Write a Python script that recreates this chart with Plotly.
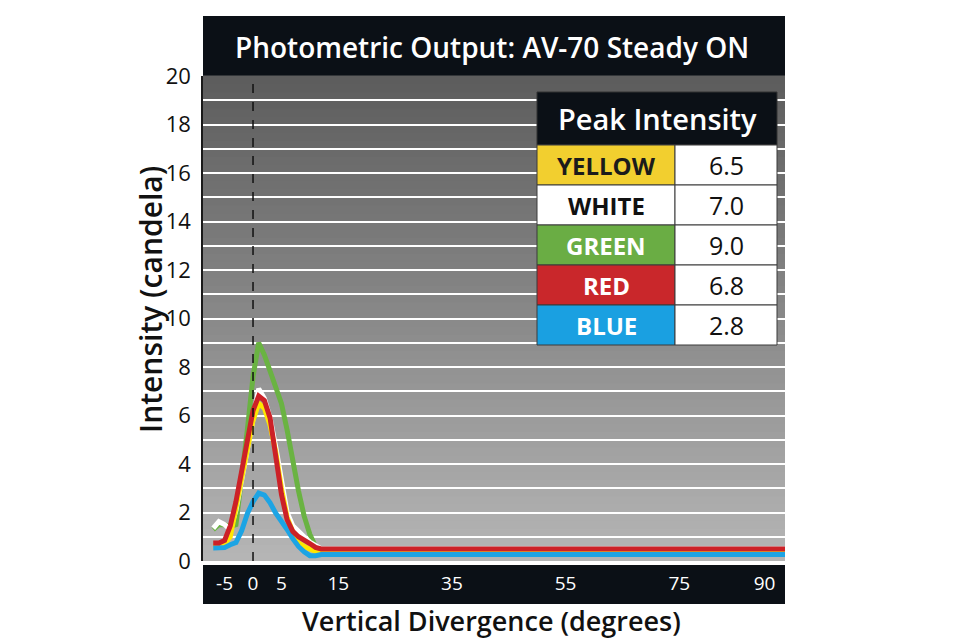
import plotly.graph_objects as go

# ---------------- data ----------------
angles = [-7, -6, -5, -4, -3, -2, -1, 0, 1, 2, 3, 4, 5, 6, 7, 8, 9, 10, 11, 12, 14, 95]

green = [1.30, 1.50, 1.50, 1.42, 1.50, 3.30, 5.40, 7.60, 9.00, 8.50, 7.80, 7.10, 6.50, 5.40,
         4.10, 2.90, 1.85, 1.10, 0.60, 0.42, 0.38, 0.38]
white = [1.35, 1.62, 1.50, 1.30, 2.10, 3.30, 4.60, 5.80, 7.10, 6.70, 5.90, 4.70, 3.20, 2.00,
         1.45, 1.20, 1.00, 0.78, 0.62, 0.50, 0.50, 0.50]
yellow = [0.62, 0.62, 0.70, 1.00, 2.20, 3.40, 4.70, 5.80, 6.50, 6.30, 5.60, 4.50, 3.00, 1.80,
          1.20, 0.75, 0.60, 0.50, 0.42, 0.30, 0.30, 0.30]
blue = [0.54, 0.54, 0.56, 0.67, 0.76, 1.25, 1.95, 2.45, 2.80, 2.72, 2.40, 1.97, 1.65, 1.30,
        0.92, 0.60, 0.38, 0.22, 0.22, 0.27, 0.27, 0.27]
red = [0.74, 0.74, 0.85, 1.45, 2.45, 3.70, 5.05, 6.20, 6.80, 6.62, 5.90, 4.40, 2.75, 1.70,
       1.22, 1.00, 0.88, 0.72, 0.56, 0.50, 0.50, 0.50]

x_ticks = [-5, 0, 5, 15, 35, 55, 75, 90]
y_ticks = list(range(0, 21, 2))

table_names = ["YELLOW", "WHITE", "GREEN", "RED", "BLUE"]
table_peaks = [6.5, 7.0, 9.0, 6.8, 2.8]

title_text = "Photometric Output: AV-70 Steady ON"
x_title = "Vertical Divergence (degrees)"
y_title = "Intensity (candela)"
table_title = "Peak Intensity"

# ---------------- styles ----------------
W, H = 960, 638
ML, MR, MT, MB = 203, 175, 76, 77
PW, PH = W - ML - MR, H - MT - MB
FONT = "Open Sans"
DARK = "#0b1016"


def px(x):
    return (x - ML) / PW


def py(y):
    return (H - MB - y) / PH


series = [
    ("GREEN", green, "#6ab342"),
    ("WHITE", white, "#ffffff"),
    ("YELLOW", yellow, "#ffe600"),
    ("BLUE", blue, "#1ca4e4"),
    ("RED", red, "#cc2127"),
]

fig = go.Figure()
for name, vals, col in series:
    fig.add_trace(go.Scatter(x=angles, y=vals, mode="lines", name=name,
                             line=dict(color=col, width=5), showlegend=False))

shapes = []
# gradient background
N = 60
top = (0x5c, 0x5c, 0x5c)
bot = (0xb6, 0xb6, 0xb6)
for i in range(N):
    t = (i + 0.5) / N
    c = tuple(int(round(bot[k] + (top[k] - bot[k]) * t)) for k in range(3))
    shapes.append(dict(type="rect", xref="paper", yref="paper", x0=0, x1=1,
                       y0=i / N, y1=(i + 1) / N + 0.002, layer="below",
                       fillcolor="rgb(%d,%d,%d)" % c, line=dict(width=0)))
# title bar
shapes.append(dict(type="rect", xref="paper", yref="paper", x0=0, x1=1,
                   y0=py(75.5), y1=py(16), fillcolor=DARK, line=dict(width=0), layer="below"))
# x-axis bar
shapes.append(dict(type="rect", xref="paper", yref="paper", x0=0, x1=1,
                   y0=py(604), y1=py(565), fillcolor=DARK, line=dict(width=0), layer="below"))
# dashed zero line
shapes.append(dict(type="line", xref="x", yref="paper", x0=0, x1=0, y0=0, y1=1,
                   line=dict(color="#111111", width=1.5, dash="dash"), layer="above"))

annotations = []
annotations.append(dict(xref="paper", yref="paper", x=px(492), y=py(47),
                        text=title_text, showarrow=False, xanchor="center", yanchor="middle",
                        font=dict(family=FONT, size=28, color="white", weight=600)))
annotations.append(dict(xref="paper", yref="paper", x=px(491), y=py(620),
                        text=x_title, showarrow=False, xanchor="center", yanchor="middle",
                        font=dict(family=FONT, size=27, color="#111111", weight=600)))
annotations.append(dict(xref="paper", yref="paper", x=px(150), y=py(300),
                        text=y_title, showarrow=False, xanchor="center", yanchor="middle",
                        textangle=-90,
                        font=dict(family=FONT, size=30, color="#111111", weight=600)))

# table
TX0, TX1, TX2 = 537, 675, 777
TY0, TYH = 92, 145
ROWH = 40
row_style = {
    "YELLOW": ("#f2cf2f", "#1b1b1b"),
    "WHITE": ("#ffffff", "#111111"),
    "GREEN": ("#6aad44", "#ffffff"),
    "RED": ("#c9272b", "#ffffff"),
    "BLUE": ("#1aa0e1", "#ffffff"),
}
shapes.append(dict(type="rect", xref="paper", yref="paper", x0=px(TX0), x1=px(TX2),
                   y0=py(TYH), y1=py(TY0), fillcolor=DARK, line=dict(color="#333333", width=1),
                   layer="above"))
annotations.append(dict(xref="paper", yref="paper", x=px((TX0 + TX2) / 2), y=py((TY0 + TYH) / 2),
                        text=table_title, showarrow=False, xanchor="center", yanchor="middle",
                        font=dict(family=FONT, size=29, color="white", weight=600)))
for i, (nm, pk) in enumerate(zip(table_names, table_peaks)):
    y0 = TYH + i * ROWH
    y1 = y0 + ROWH
    bg, fg = row_style[nm]
    shapes.append(dict(type="rect", xref="paper", yref="paper", x0=px(TX0), x1=px(TX1),
                       y0=py(y1), y1=py(y0), fillcolor=bg, line=dict(color="#3a3a3a", width=1),
                       layer="above"))
    shapes.append(dict(type="rect", xref="paper", yref="paper", x0=px(TX1), x1=px(TX2),
                       y0=py(y1), y1=py(y0), fillcolor="#ffffff", line=dict(color="#3a3a3a", width=1),
                       layer="above"))
    annotations.append(dict(xref="paper", yref="paper", x=px((TX0 + TX1) / 2), y=py((y0 + y1) / 2),
                            text=nm, showarrow=False, xanchor="center", yanchor="middle",
                            font=dict(family=FONT, size=24, color=fg, weight=700)))
    annotations.append(dict(xref="paper", yref="paper", x=px((TX1 + TX2) / 2), y=py((y0 + y1) / 2),
                            text="%.1f" % pk, showarrow=False, xanchor="center", yanchor="middle",
                            font=dict(family=FONT, size=25, color="#111111")))

fig.update_layout(
    width=W, height=H,
    margin=dict(l=ML, r=MR, t=MT, b=MB, pad=0),
    paper_bgcolor="white", plot_bgcolor="#8a8a8a",
    shapes=shapes, annotations=annotations,
    font=dict(family=FONT),
    xaxis=dict(range=[-8.8, 93.6], tickmode="array", tickvals=x_ticks,
               ticktext=[str(v) for v in x_ticks], showgrid=False, zeroline=False,
               ticks="outside", ticklen=5, tickcolor="rgba(0,0,0,0)",
               tickfont=dict(family=FONT, size=19, color="white"), showline=False),
    yaxis=dict(range=[0, 20], tickmode="array", tickvals=y_ticks,
               ticktext=[str(v) for v in y_ticks], showgrid=True, gridcolor="white",
               gridwidth=2, zeroline=False, ticks="outside", ticklen=6,
               tickcolor="rgba(0,0,0,0)", tickfont=dict(family=FONT, size=22, color="#111111"),
               showline=True, linecolor="#1a1a1a", linewidth=1.5,
               minor=dict(dtick=1, showgrid=True, gridcolor="white", gridwidth=2)),
)

fig.write_html("out.html")
